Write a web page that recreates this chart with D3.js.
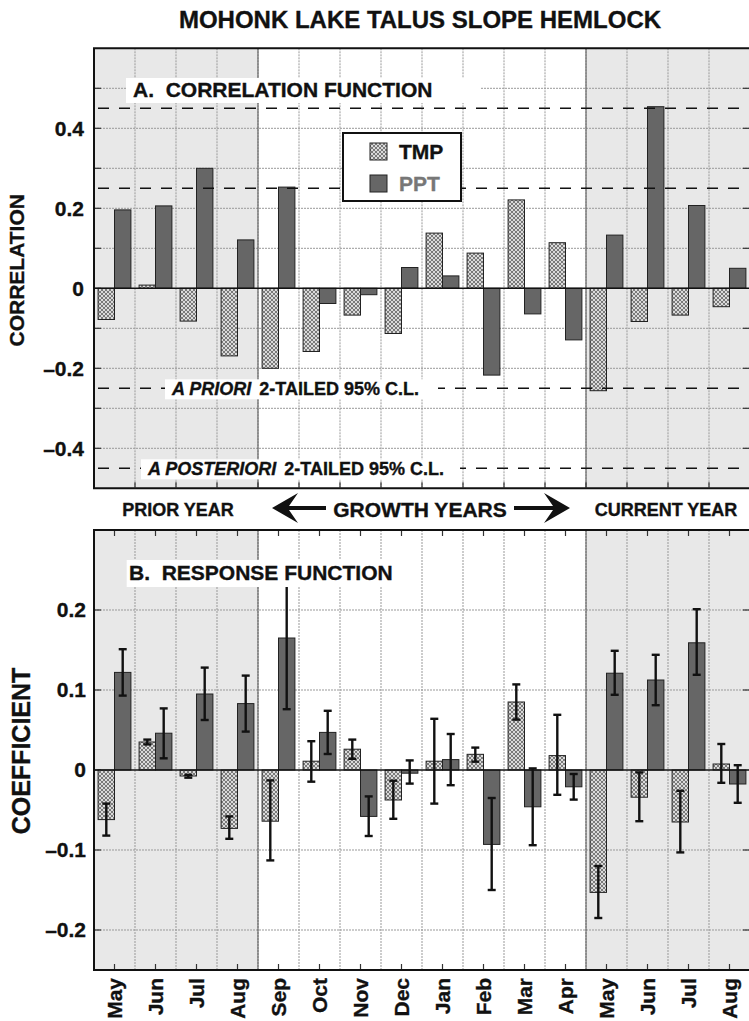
<!DOCTYPE html>
<html>
<head>
<meta charset="utf-8">
<script src="https://cdn.jsdelivr.net/npm/d3@7"></script>
<style>
  body { margin: 0; background: #fff; }
  svg { display: block; font-family: "Liberation Sans", Arial, Helvetica, sans-serif; font-weight: bold; }
  svg text { stroke: currentColor; stroke-width: 0.35px; }
</style>
</head>
<body>
<svg id="chart" width="749" height="1021" style="color:#111"></svg>
<script>
// ---------------- DATA ----------------
const months = ["May","Jun","Jul","Aug","Sep","Oct","Nov","Dec","Jan","Feb","Mar","Apr","May","Jun","Jul","Aug"];
const series = ["TMP","PPT"];

// A. Correlation function
const corrTMP = [-0.078, 0.008, -0.082, -0.169, -0.200, -0.158, -0.067, -0.113, 0.138, 0.088, 0.221, 0.114, -0.256, -0.083, -0.067, -0.046];
const corrPPT = [0.196, 0.206, 0.300, 0.121, 0.253, -0.038, -0.016, 0.052, 0.031, -0.217, -0.064, -0.129, 0.133, 0.454, 0.207, 0.050];

// B. Response function (coefficient, lower and upper error limits)
const respTMP   = [-0.062, 0.035, -0.0075, -0.073, -0.064, 0.011, 0.026, -0.0375, 0.011, 0.0196, 0.085, 0.018, -0.153, -0.034, -0.065, 0.0075];
const respTMPlo = [-0.082, 0.032, -0.0096, -0.086, -0.113, -0.0146, 0.014, -0.061, -0.042, 0.0104, 0.063, -0.031, -0.185, -0.064, -0.103, -0.016];
const respTMPhi = [-0.042, 0.038, -0.006, -0.058, -0.013, 0.036, 0.038, -0.0134, 0.064, 0.028, 0.107, 0.069, -0.120, -0.003, -0.026, 0.0325];
const respPPT   = [0.122, 0.046, 0.095, 0.083, 0.165, 0.047, -0.058, -0.004, 0.013, -0.093, -0.046, -0.021, 0.121, 0.1125, 0.159, -0.0175];
const respPPTlo = [0.093, 0.0146, 0.0625, 0.048, 0.076, 0.020, -0.0825, -0.017, -0.019, -0.150, -0.094, -0.037, 0.094, 0.081, 0.119, -0.041];
const respPPThi = [0.151, 0.077, 0.128, 0.118, 0.254, 0.074, -0.033, 0.012, 0.045, -0.035, 0.002, -0.005, 0.149, 0.144, 0.201, 0.006];

// Tick labels / reference lines
const corrTickLabels = [-0.4, -0.2, 0, 0.2, 0.4];
const corrGrid = [-0.4, -0.3, -0.2, -0.1, 0.1, 0.2, 0.3, 0.4, 0.5];
const corrConfLines = [0.45, 0.25, -0.25, -0.45];
const respTickLabels = [-0.2, -0.1, 0, 0.1, 0.2];
const respGrid = [-0.2, -0.1, 0.1, 0.2];
const shadedMonths = [[0, 4], [12, 16]];

// ---------------- LAYOUT ----------------
const svg = d3.select("#chart");
const X0 = 94, X1 = 750;
const topP = { y0: 48.3, y1: 488.3 };
const botP = { y0: 530, y1: 970 };

const x = d3.scaleBand().domain(d3.range(months.length)).range([X0, X1]).padding(0);
const xs = d3.scaleBand().domain(series).range([0, x.bandwidth()]).paddingInner(0).paddingOuter(0.25);
const yTop = d3.scaleLinear().domain([-0.5, 0.6]).range([topP.y1, topP.y0]);
const yBot = d3.scaleLinear().domain([-0.25, 0.3]).range([botP.y1, botP.y0]);

// Pattern for TMP
const defs = svg.append("defs");
const pat = defs.append("pattern").attr("id", "hatch").attr("patternUnits", "userSpaceOnUse")
  .attr("width", 4).attr("height", 4);
pat.append("rect").attr("width", 4).attr("height", 4).attr("fill", "#dadada");
pat.append("path").attr("d", "M0,0L4,4M4,0L0,4").attr("stroke", "#7a7a7a").attr("stroke-width", 1);

const fillOf = { TMP: "url(#hatch)", PPT: "#666666" };

function panel(y, yb, gridVals, tickVals, data, opts) {
  const g = svg.append("g");
  shadedMonths.forEach(([a, b]) => {
    g.append("rect").attr("x", x(a)).attr("y", yb.y0)
      .attr("width", (b < months.length ? x(b) : X1) - x(a)).attr("height", yb.y1 - yb.y0)
      .attr("fill", "#e8e8e8");
  });
  g.selectAll(".hg").data(gridVals).join("line")
    .attr("x1", X0).attr("x2", X1).attr("y1", d => y(d)).attr("y2", d => y(d))
    .attr("stroke", "#999").attr("stroke-width", 1).attr("stroke-dasharray", "2,1");
  g.selectAll(".vg").data(d3.range(1, months.length)).join("line")
    .attr("x1", d => x(d)).attr("x2", d => x(d)).attr("y1", yb.y0).attr("y2", yb.y1)
    .attr("stroke", "#999").attr("stroke-width", 1).attr("stroke-dasharray", "2,1");
  [4, 12].forEach(m => g.append("line").attr("x1", x(m)).attr("x2", x(m))
    .attr("y1", yb.y0).attr("y2", yb.y1).attr("stroke", "#555").attr("stroke-width", 1));
  g.selectAll(".lt").data(gridVals.concat([0])).join("line")
    .attr("x1", X0).attr("x2", X0 + 7).attr("y1", d => y(d)).attr("y2", d => y(d))
    .attr("stroke", "#333").attr("stroke-width", 1.2);
  g.selectAll(".rt").data(gridVals).join("line")
    .attr("x1", X1 - 7).attr("x2", X1).attr("y1", d => y(d)).attr("y2", d => y(d))
    .attr("stroke", "#333").attr("stroke-width", 1.2);
  if (opts.centerTicks) {
    const c = d3.range(months.length).map(i => x(i) + x.bandwidth() / 2);
    g.selectAll(".ct").data(c).join("line").attr("x1", d => d).attr("x2", d => d)
      .attr("y1", yb.y0).attr("y2", yb.y0 + 6).attr("stroke", "#333").attr("stroke-width", 1.2);
    g.selectAll(".cb").data(c).join("line").attr("x1", d => d).attr("x2", d => d)
      .attr("y1", yb.y1 - 6).attr("y2", yb.y1).attr("stroke", "#333").attr("stroke-width", 1.2);
  }
  const rows = [];
  months.forEach((m, i) => series.forEach(s => rows.push({ i, s, v: data[s][i] })));
  g.selectAll(".bar").data(rows).join("rect")
    .attr("x", d => x(d.i) + xs(d.s)).attr("width", xs.bandwidth())
    .attr("y", d => Math.min(y(d.v), y(0))).attr("height", d => Math.abs(y(d.v) - y(0)))
    .attr("fill", d => fillOf[d.s]).attr("stroke", "#222").attr("stroke-width", 1);
  g.append("line").attr("x1", X0).attr("x2", X1).attr("y1", y(0)).attr("y2", y(0))
    .attr("stroke", "#111").attr("stroke-width", 1.6);
  g.append("path").attr("d", `M${X1},${yb.y0}H${X0}V${yb.y1}H${X1}`)
    .attr("fill", "none").attr("stroke", "#111").attr("stroke-width", 2);
  const ax = d3.axisLeft(y).tickValues(tickVals).tickSize(0).tickPadding(opts.pad)
    .tickFormat(d => d === 0 ? "0" : d3.format(opts.fmt)(d).replace("−", "–").replace("-", "–"));
  const ag = g.append("g").attr("transform", `translate(${X0},0)`).call(ax);
  ag.select(".domain").remove();
  ag.selectAll("text").attr("font-size", opts.fs).attr("font-weight", "bold")
    .attr("font-family", "Liberation Sans, Arial, sans-serif").attr("fill", "#111");
  return g;
}

// ---------------- TOP PANEL ----------------
const gTop = panel(yTop, topP, corrGrid, corrTickLabels, { TMP: corrTMP, PPT: corrPPT },
  { fmt: ".1f", fs: 21, pad: 10, centerTicks: false });
gTop.selectAll(".bt").data(d3.range(1, months.length)).join("line")
  .attr("x1", d => x(d)).attr("x2", d => x(d)).attr("y1", topP.y1 - 6).attr("y2", topP.y1)
  .attr("stroke", "#333").attr("stroke-width", 1.2);

gTop.selectAll(".cl").data(corrConfLines).join("line")
  .attr("x1", X0 + 4).attr("x2", X1).attr("y1", d => yTop(d)).attr("y2", d => yTop(d))
  .attr("stroke", "#111").attr("stroke-width", 1.4).attr("stroke-dasharray", "11,10");

svg.append("rect").attr("x", 126).attr("y", 78).attr("width", 354).attr("height", 25).attr("fill", "#fff");
svg.append("text").attr("x", 133).attr("y", 97).attr("font-size", 21).attr("fill", "#111")
  .attr("xml:space", "preserve").text("A.  CORRELATION FUNCTION");

svg.append("rect").attr("x", 165).attr("y", yTop(-0.25) - 9).attr("width", 273).attr("height", 20).attr("fill", "#fff");
const tPri = svg.append("text").attr("x", 172).attr("y", yTop(-0.25) + 6.5).attr("font-size", 18).attr("fill", "#111");
tPri.append("tspan").attr("font-style", "italic").text("A PRIORI");
tPri.append("tspan").attr("dx", 8).text("2-TAILED 95% C.L.");

svg.append("rect").attr("x", 141).attr("y", yTop(-0.45) - 9).attr("width", 319).attr("height", 20).attr("fill", "#fff");
const tPos = svg.append("text").attr("x", 148).attr("y", yTop(-0.45) + 6.5).attr("font-size", 18).attr("fill", "#111");
tPos.append("tspan").attr("font-style", "italic").text("A POSTERIORI");
tPos.append("tspan").attr("dx", 8).text("2-TAILED 95% C.L.");

const lg = svg.append("g");
lg.append("rect").attr("x", 343).attr("y", 133).attr("width", 118).attr("height", 68)
  .attr("fill", "#fff").attr("stroke", "#111").attr("stroke-width", 2);
series.forEach((s, k) => {
  const yy = 143 + k * 32;
  lg.append("rect").attr("x", 370).attr("y", yy).attr("width", 17).attr("height", 17)
    .attr("fill", fillOf[s]).attr("stroke", "#222").attr("stroke-width", 1);
  lg.append("text").attr("x", 399).attr("y", yy + 16).attr("font-size", 21)
    .attr("fill", s === "PPT" ? "#777" : "#111").style("color", s === "PPT" ? "#777" : "#111").text(s);
});

// ---------------- BOTTOM PANEL ----------------
const gBot = panel(yBot, botP, respGrid, respTickLabels, { TMP: respTMP, PPT: respPPT },
  { fmt: ".1f", fs: 21, pad: 8, centerTicks: true });

const errRows = [];
months.forEach((m, i) => {
  errRows.push({ i, s: "TMP", lo: respTMPlo[i], hi: respTMPhi[i] });
  errRows.push({ i, s: "PPT", lo: respPPTlo[i], hi: respPPThi[i] });
});
const eg = gBot.append("g").attr("stroke", "#111").attr("stroke-width", 2.4);
errRows.forEach(d => {
  const cx = x(d.i) + xs(d.s) + xs.bandwidth() / 2;
  eg.append("line").attr("x1", cx).attr("x2", cx).attr("y1", yBot(d.hi)).attr("y2", yBot(d.lo));
  [d.lo, d.hi].forEach(v => eg.append("line").attr("x1", cx - 4).attr("x2", cx + 4)
    .attr("y1", yBot(v)).attr("y2", yBot(v)));
});

svg.append("rect").attr("x", 126.7).attr("y", 560).attr("width", 274).attr("height", 27).attr("fill", "#fff");
svg.append("text").attr("x", 129).attr("y", 580).attr("font-size", 21).attr("fill", "#111")
  .attr("xml:space", "preserve").text("B.  RESPONSE FUNCTION");

const xa = d3.axisBottom(x).tickSize(0).tickFormat(i => months[i]);
const xg = svg.append("g").attr("transform", `translate(0,${botP.y1})`).call(xa);
xg.select(".domain").remove();
xg.selectAll(".tick text")
  .attr("font-size", 21).attr("font-weight", "bold").attr("fill", "#111")
  .attr("font-family", "Liberation Sans, Arial, sans-serif")
  .attr("text-anchor", "end").attr("transform", "translate(0,8) rotate(-90)")
  .attr("x", 0).attr("y", 0).attr("dy", "0.36em");

// ---------------- TEXT ----------------
svg.append("text").attr("x", 420).attr("y", 28).attr("text-anchor", "middle")
  .attr("font-size", 24).attr("fill", "#111").text("MOHONK LAKE TALUS SLOPE HEMLOCK");

svg.append("text").attr("transform", `translate(24,${(topP.y0 + topP.y1) / 2 + 2}) rotate(-90)`)
  .attr("text-anchor", "middle").attr("font-size", 21).attr("fill", "#111").text("CORRELATION");
svg.append("text").attr("transform", `translate(30,${(botP.y0 + botP.y1) / 2 + 1}) rotate(-90)`)
  .attr("text-anchor", "middle").attr("font-size", 25).attr("fill", "#111").text("COEFFICIENT");

svg.append("text").attr("x", 178).attr("y", 516).attr("text-anchor", "middle")
  .attr("font-size", 18).attr("fill", "#111").text("PRIOR YEAR");
svg.append("text").attr("x", 420).attr("y", 517).attr("text-anchor", "middle")
  .attr("font-size", 21).attr("fill", "#111").text("GROWTH YEARS");
svg.append("text").attr("x", 666).attr("y", 516).attr("text-anchor", "middle")
  .attr("font-size", 18).attr("fill", "#111").text("CURRENT YEAR");

const ay = 508;
svg.append("path").attr("fill", "#111")
  .attr("d", `M272,${ay} L298,${ay - 15} L289,${ay - 2} L326,${ay - 2} L326,${ay + 2} L289,${ay + 2} L298,${ay + 15} Z`);
svg.append("path").attr("fill", "#111")
  .attr("d", `M570,${ay} L544,${ay - 15} L553,${ay - 2} L514,${ay - 2} L514,${ay + 2} L553,${ay + 2} L544,${ay + 15} Z`);
</script>
</body>
</html>
